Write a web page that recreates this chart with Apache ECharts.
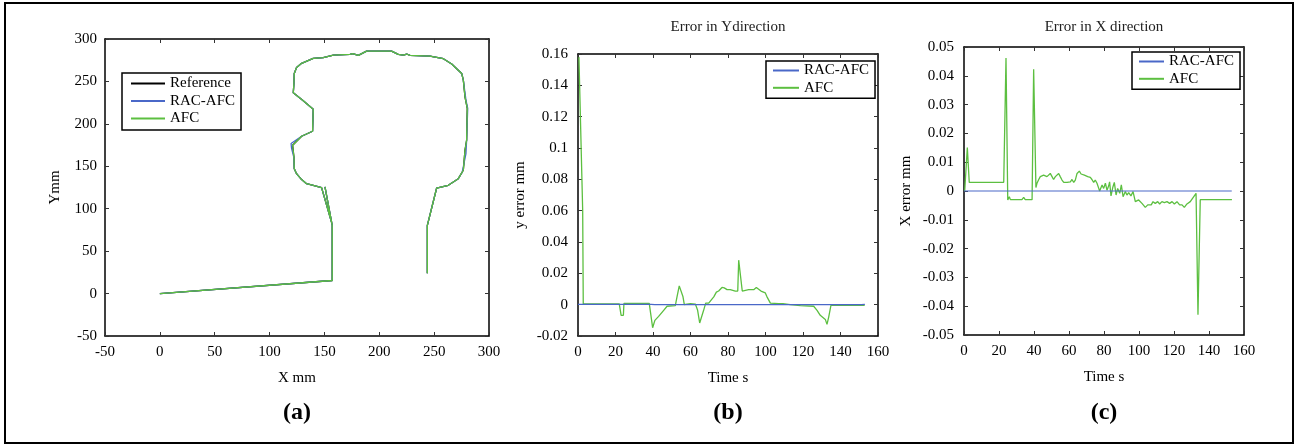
<!DOCTYPE html>
<html><head><meta charset="utf-8">
<script src="https://cdn.jsdelivr.net/npm/echarts@6/dist/echarts.min.js"></script>
<style>html,body{margin:0;padding:0;background:#fff}#c{width:1297px;height:445px}</style>
</head><body><div id="c"></div>
<script>
// ---- Panel (a): trajectory (X mm, Y mm)
var refX = [0, 157.1, 157.1, 150.5, 156.5, 147.4, 139.8, 133.7, 129.2, 124.6, 122.5, 122.2, 121.0, 120.1, 129.2, 139.2, 139.5, 139.8, 130.7, 121.6, 122.2, 122.5, 124.6, 129.2, 139.8, 148.9, 158.1, 173.3, 175.7, 180.9, 188.4, 211.2, 217.3, 221.9, 225.0, 228.0, 246.2, 258.4, 266.0, 275.1, 276.6, 278.1, 280.2, 279.6, 278.1, 276.6, 272.0, 262.9, 252.3, 243.8, 243.8];
var refY = [0, 15.4, 80.3, 125.6, 84, 124.8, 127.6, 129.5, 134.3, 141.3, 147.2, 161.0, 174.8, 176.8, 185.4, 191.3, 204.3, 217.3, 227.2, 236.6, 247.6, 259.4, 266.5, 271.3, 277.2, 278.0, 281.1, 281.9, 282.7, 280.7, 285.8, 285.8, 281.9, 281.1, 282.3, 280.7, 279.9, 276.8, 270.5, 259.4, 251.6, 231.9, 218.1, 180.7, 168.9, 145.3, 135.4, 127.6, 124.4, 80.3, 24.0];
var racX = [0, 157.1, 157.1, 150.5, 156.5, 147.4, 139.8, 133.7, 129.2, 124.6, 122.5, 122.0, 120.0, 119.6, 129.2, 139.2, 139.5, 139.8, 130.7, 121.6, 122.2, 122.5, 124.6, 129.2, 139.8, 148.9, 158.1, 173.3, 175.7, 180.9, 188.4, 211.2, 217.3, 221.9, 225.0, 228.0, 246.2, 258.4, 266.0, 275.1, 276.6, 279.0, 280.6, 279.6, 279.0, 275.6, 272.0, 262.9, 252.3, 243.8, 243.8];
var racY = [0, 15.4, 80.3, 125.6, 84, 124.8, 127.6, 129.5, 134.3, 141.3, 147.2, 161.0, 171.5, 176.8, 185.4, 191.3, 204.3, 217.3, 227.2, 236.6, 247.6, 259.4, 266.5, 271.3, 277.2, 278.0, 281.1, 281.9, 282.7, 280.7, 285.8, 285.8, 281.9, 281.1, 282.3, 280.7, 279.9, 276.8, 270.5, 259.4, 251.6, 228.0, 218.1, 180.7, 165.0, 143.0, 135.4, 127.6, 124.4, 80.3, 24.0];
var afcX = refX.slice();
var afcY = refY.slice();

// ---- Panel (b): error in Y direction
var bAfcT = [0.5, 1.2, 2.5, 2.8, 22, 23, 24.2, 24.5, 38, 39.8, 41, 43, 45.7, 47.5, 51.9, 52.8, 54, 55, 56, 56.7, 58.1, 60, 62.6, 63.8, 64.9, 65.8, 67, 68.1, 69.7, 72.4, 73.8, 75, 76.8, 78, 79.5, 81.2, 83.9, 85.2, 85.7, 86.6, 87.6, 91, 93.7, 95.1, 96, 97.6, 99.9, 100.8, 102.6, 107, 109.3, 113.2, 118.6, 125.7, 127.5, 129.2, 131.9, 132.8, 133.7, 134.9, 136.4, 152.9];
var bAfcV = [0.158, 0.158, 0.060, 0.0005, 0.0005, -0.0068, -0.0068, 0.0008, 0.0008, -0.0147, -0.010, -0.0075, -0.0036, -0.001, -0.0006, 0.005, 0.012, 0.012, 0.005, 0, 0.0004, 0.0006, 0.0004, -0.0036, -0.0117, -0.0117, -0.0036, 0.001, 0.001, 0.005, 0.008, 0.0087, 0.011, 0.0107, 0.0096, 0.0096, 0.0087, 0.0087, 0.0284, 0.0284, 0.0087, 0.0096, 0.0096, 0.011, 0.011, 0.0087, 0.0075, 0.005, 0.001, 0.0006, 0.0006, 0, -0.0006, -0.001, -0.0036, -0.0068, -0.0094, -0.0126, -0.0079, -0.0004, -0.0004, -0.0004];
var bRacT = [0, 39, 40, 41, 42, 43, 44, 45, 46, 47, 48, 49, 50, 51, 52, 53, 54, 55, 56, 57, 58, 59, 60, 61, 62, 63, 64, 65, 66, 67, 68, 69, 70, 71, 72, 73, 74, 75, 76, 77, 78, 79, 80, 81, 82, 83, 84, 85, 86, 87, 88, 89, 90, 91, 92, 93, 94, 95, 96, 97, 98, 99, 100, 101, 102, 103, 104, 105, 106, 107, 108, 109, 110, 111, 112, 113, 114, 115, 116, 117, 118, 119, 120, 121, 122, 123, 124, 125, 126, 127, 128, 129, 130, 131, 132, 133, 134, 135, 136, 137, 138, 139, 140, 141, 142, 143, 144, 145, 146, 147, 148, 149, 150, 151, 152, 153];
var bRacV = [0.0002, 0.0002, 0.0005, 0, 0.0005, 0, 0.0005, 0, 0.0005, 0, 0.0005, 0, 0.0005, 0, 0.0005, 0, 0.0005, 0, 0.0005, 0, 0.0005, 0, 0.0005, 0, 0.0005, 0, 0.0005, 0, 0.0005, 0, 0.0005, 0, 0.0005, 0, 0.0005, 0, 0.0005, 0, 0.0005, 0, 0.0005, 0, 0.0005, 0, 0.0005, 0, 0.0005, 0, 0.0005, 0, 0.0005, 0, 0.0005, 0, 0.0005, 0, 0.0005, 0, 0.0005, 0, 0.0005, 0, 0.0005, 0, 0.0005, 0, 0.0005, 0, 0.0005, 0, 0.0005, 0, 0.0005, 0, 0.0005, 0, 0.0005, 0, 0.0005, 0, 0.0005, 0, 0.0005, 0, 0.0005, 0, 0.0005, 0, 0.0005, 0, 0.0005, 0, 0.0005, 0, 0.0005, 0, 0.0005, 0, 0.0005, 0, 0.0005, 0, 0.0005, 0, 0.0005, 0, 0.0005, 0, 0.0005, 0, 0.0005, 0, 0.0005, 0, 0.0005, 0.0002];

// ---- Panel (c): error in X direction
var cAfcT = [0.4, 1.9, 3, 22.7, 24, 25, 25.9, 26.5, 33.1, 34.1, 35, 38.9, 39.8, 41.1, 41.7, 42.7, 43.6, 44.6, 45.5, 46.5, 47.4, 48.4, 49.3, 50.3, 51.2, 52.2, 53.1, 54.1, 55, 56, 57, 58.9, 60.8, 61.7, 62.7, 63.6, 64.6, 65.9, 66.9, 67.8, 68.8, 69.7, 70.7, 72.2, 73.1, 74.1, 75, 76, 77, 77.5, 78.9, 79.8, 80.8, 81.7, 82.7, 83.2, 84, 85, 85.9, 86.9, 87.8, 89, 89.9, 90.9, 92.2, 93.1, 94.1, 95.4, 96.6, 97.9, 99.8, 101.7, 103.6, 105, 106.1, 107, 108, 109.3, 110.7, 111.8, 113.1, 114.5, 116, 117.5, 118.9, 120.2, 121.7, 123.2, 124.6, 125.9, 127.4, 129.3, 131.2, 132.6, 133.7, 134.3, 135, 153.1];
var cAfcV = [0, 0.0151, 0.003, 0.003, 0.0462, -0.0031, -0.002, -0.003, -0.003, -0.0022, -0.003, -0.003, 0.0423, 0.0012, 0.0027, 0.004, 0.005, 0.0044, 0.0055, 0.0059, 0.005, 0.0053, 0.0061, 0.005, 0.004, 0.005, 0.0055, 0.0061, 0.005, 0.0038, 0.003, 0.003, 0.0032, 0.004, 0.003, 0.0038, 0.0061, 0.0069, 0.0059, 0.0064, 0.0055, 0.0059, 0.005, 0.0047, 0.004, 0.003, 0.0038, 0.0027, 0.0009, 0, 0.0021, 0.0009, 0.0027, 0.0003, 0.0018, 0.0032, -0.0017, 0.0012, 0.003, -0.0014, 0.0009, -0.0008, 0.0021, -0.002, -0.0002, -0.0014, -0.0006, -0.0017, -0.0002, -0.0037, -0.0031, -0.0043, -0.0057, -0.0048, -0.0043, -0.0048, -0.0037, -0.0043, -0.0037, -0.0045, -0.0037, -0.004, -0.0037, -0.0043, -0.0037, -0.0045, -0.0037, -0.0048, -0.0048, -0.0057, -0.0045, -0.0037, -0.002, -0.0008, -0.043, -0.043, -0.003, -0.003];
var cRacT = [0, 22, 23, 24, 25, 26, 27, 28, 29, 30, 31, 32, 33, 34, 35, 36, 37, 38, 39, 40, 41, 42, 43, 44, 45, 46, 47, 48, 49, 50, 51, 52, 53, 54, 55, 56, 57, 58, 59, 60, 61, 62, 63, 64, 65, 66, 67, 68, 69, 70, 71, 72, 73, 74, 75, 76, 77, 78, 79, 80, 81, 82, 83, 84, 85, 86, 87, 88, 89, 90, 91, 92, 93, 94, 95, 96, 97, 98, 99, 100, 101, 102, 103, 104, 105, 106, 107, 108, 109, 110, 111, 112, 133, 134, 135, 136, 137, 138, 139, 140, 141, 142, 143, 144, 145, 146, 147, 148, 149, 150, 151, 152, 153];
var cRacV = [0, 0, 0.0003, 0, 0.0003, 0, 0.0003, 0, 0.0003, 0, 0.0003, 0, 0.0003, 0, 0.0003, 0, 0.0003, 0, 0.0003, 0, 0.0003, 0, 0.0003, 0, 0.0003, 0, 0.0003, 0, 0.0003, 0, 0.0003, 0, 0.0003, 0, 0.0003, 0, 0.0003, 0, 0.0003, 0, 0.0003, 0, 0.0003, 0, 0.0003, 0, 0.0003, 0, 0.0003, 0, 0.0003, 0, 0.0003, 0, 0.0003, 0, 0.0003, 0, 0.0003, 0, 0.0003, 0, 0.0003, 0, 0.0003, 0, 0.0003, 0, 0.0003, 0, 0.0003, 0, 0.0003, 0, 0.0003, 0, 0.0003, 0, 0.0003, 0, 0.0003, 0, 0.0003, 0, 0.0003, 0, 0.0003, 0, 0.0003, 0, 0.0003, 0, 0, 0.0003, 0, 0.0003, 0, 0.0003, 0, 0.0003, 0, 0.0003, 0, 0.0003, 0, 0.0003, 0, 0.0003, 0, 0.0003, 0, 0.0003, 0];

// ---- text
var panelTitles = ['', 'Error in Ydirection', 'Error in X direction'];
var panelLabels = ['(a)', '(b)', '(c)'];
var xNames = ['X mm', 'Time s', 'Time s'];
var yNames = ['Ymm', 'y error mm', 'X error mm'];
var legendA = ['Reference', 'RAC-AFC', 'AFC'];
var legendBC = ['RAC-AFC', 'AFC'];

function pairs(a, b) { var o = []; for (var i = 0; i < a.length; i++) o.push([a[i], b[i]]); return o; }

var FONT = '"Liberation Serif", "Times New Roman", serif';
var BLACK = '#000';
var BLUE = '#4a68c8';
var GREEN = '#5cbf40';

var grids = [
  { left: 105, top: 39, width: 384, height: 297 },
  { left: 578, top: 54, width: 300, height: 282 },
  { left: 964, top: 47, width: 280, height: 288 }
];
var ranges = [
  { x: [-50, 300, 50], y: [-50, 300, 50], yGap: 42, yMargin: 8 },
  { x: [0, 160, 20], y: [-0.02, 0.16, 0.02], yGap: 50, yMargin: 10 },
  { x: [0, 160, 20], y: [-0.05, 0.05, 0.01], yGap: 50, yMargin: 10 }
];

function fmt(v) { return String(parseFloat(v.toFixed(4))); }

var xAxes = [], yAxes = [];
ranges.forEach(function (r, g) {
  var line = { show: true, onZero: false, lineStyle: { color: BLACK, width: 1.5 } };
  var tick = { show: true, inside: true, length: 4, lineStyle: { color: '#333', width: 1 } };
  var lab = { color: BLACK, fontFamily: FONT, fontSize: 15, formatter: fmt };
  xAxes.push({ type: 'value', gridIndex: g, position: 'bottom', min: r.x[0], max: r.x[1], interval: r.x[2],
    axisLine: line, axisTick: tick, splitLine: { show: false },
    axisLabel: Object.assign({ margin: 9 }, lab),
    name: xNames[g], nameLocation: 'middle', nameGap: 35,
    nameTextStyle: { color: BLACK, fontFamily: FONT, fontSize: 15 } });
  xAxes.push({ type: 'value', gridIndex: g, position: 'top', min: r.x[0], max: r.x[1], interval: r.x[2],
    axisLine: line, axisTick: tick, splitLine: { show: false }, axisLabel: { show: false } });
  yAxes.push({ type: 'value', gridIndex: g, position: 'left', min: r.y[0], max: r.y[1], interval: r.y[2],
    axisLine: line, axisTick: tick, splitLine: { show: false },
    axisLabel: Object.assign({ margin: r.yMargin }, lab),
    name: yNames[g], nameLocation: 'middle', nameGap: r.yGap, nameRotate: 90,
    nameTextStyle: { color: BLACK, fontFamily: FONT, fontSize: 15 } });
  yAxes.push({ type: 'value', gridIndex: g, position: 'right', min: r.y[0], max: r.y[1], interval: r.y[2],
    axisLine: line, axisTick: tick, splitLine: { show: false }, axisLabel: { show: false } });
});

function ser(name, color, g, data, z, w) {
  return { type: 'line', name: name, xAxisIndex: g * 2, yAxisIndex: g * 2, data: data,
    symbol: 'none', showSymbol: false, animation: false, z: z,
    lineStyle: { color: color, width: w || 1.3 }, itemStyle: { color: color } };
}

var series = [
  ser('Reference', BLACK, 0, pairs(refX, refY), 2),
  ser('RAC-AFC', BLUE, 0, pairs(racX, racY), 3),
  ser('AFC', GREEN, 0, pairs(afcX, afcY), 4),
  ser('RAC-AFC', BLUE, 1, pairs(bRacT, bRacV), 4, 1.1),
  ser('AFC', GREEN, 1, pairs(bAfcT, bAfcV), 3),
  ser('RAC-AFC', BLUE, 2, pairs(cRacT, cRacV), 4, 1.1),
  ser('AFC', GREEN, 2, pairs(cAfcT, cAfcV), 3)
];

var legTxt = { color: BLACK, fontFamily: FONT, fontSize: 15 };
var legIcon = { opacity: 0 };
var legends = [
  { data: legendA, left: 122, top: 73, orient: 'vertical', padding: [3, 6, 4, 8], itemGap: 2.5, itemWidth: 34, itemHeight: 14,
    borderColor: BLACK, borderWidth: 1.5, backgroundColor: '#fff', textStyle: legTxt, selectedMode: false, itemStyle: legIcon },
  { data: legendBC, left: 766, top: 61, orient: 'vertical', padding: [2, 6, 3, 6], itemGap: 2.3, itemWidth: 26, itemHeight: 12,
    borderColor: BLACK, borderWidth: 1.5, backgroundColor: '#fff', textStyle: legTxt, selectedMode: false, itemStyle: legIcon },
  { data: legendBC, left: 1132, top: 52, orient: 'vertical', padding: [2, 6, 3, 6], itemGap: 2.3, itemWidth: 25, itemHeight: 14,
    borderColor: BLACK, borderWidth: 1.5, backgroundColor: '#fff', textStyle: legTxt, selectedMode: false, itemStyle: legIcon }
];

var graphics = [
  { type: 'rect', shape: { x: 5, y: 3, width: 1288, height: 440 }, style: { fill: 'none', stroke: BLACK, lineWidth: 2 }, silent: true }
];
var labelX = [297, 728, 1104];
var titleX = [297, 728, 1104];
for (var i = 0; i < 3; i++) {
  graphics.push({ type: 'text', x: labelX[i], y: 413, silent: true,
    style: { text: panelLabels[i], fontFamily: FONT, fontSize: 24, fontWeight: 'bold', fill: BLACK, align: 'center', verticalAlign: 'middle' } });
  if (panelTitles[i]) graphics.push({ type: 'text', x: titleX[i], y: 27, silent: true,
    style: { text: panelTitles[i], fontFamily: FONT, fontSize: 15, fill: '#222', align: 'center', verticalAlign: 'middle' } });
}

var chart = echarts.init(document.getElementById('c'), null, { renderer: 'canvas' });
chart.setOption({
  backgroundColor: '#fff',
  animation: false,
  grid: grids,
  xAxis: xAxes,
  yAxis: yAxes,
  legend: legends,
  series: series,
  graphic: graphics
});
</script></body></html>
